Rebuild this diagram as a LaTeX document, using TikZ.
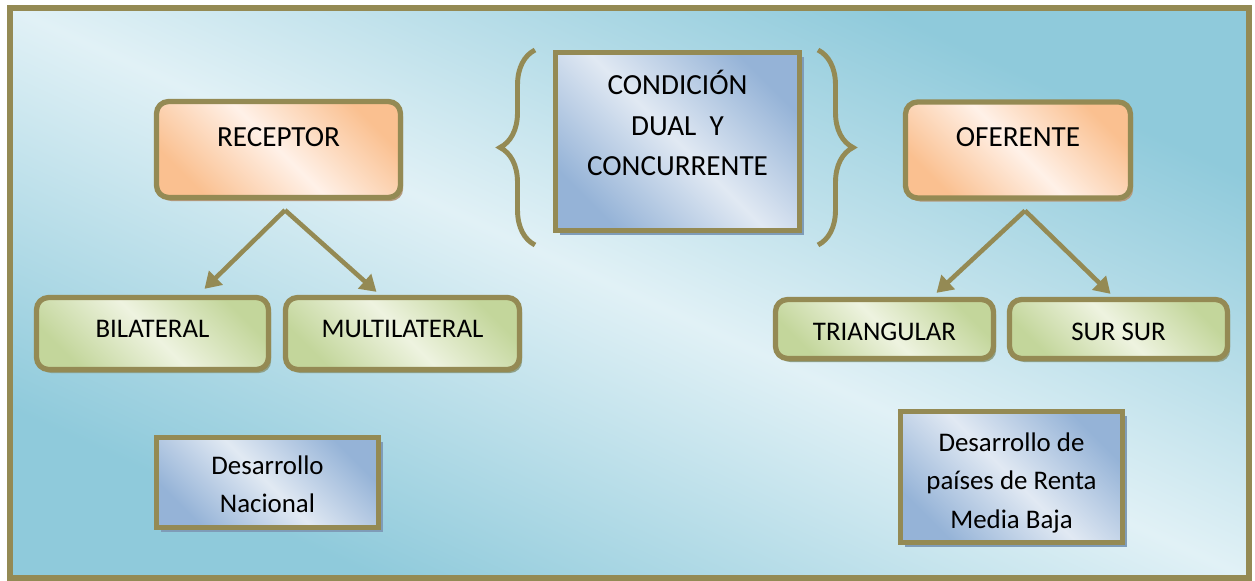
\documentclass[tikz,border=0pt]{standalone}
\usepackage{fontspec}
\setmainfont{Carlito}
\usetikzlibrary{arrows.meta, decorations.pathreplacing, shadows, calc}

\definecolor{olive}{HTML}{948A54}
\definecolor{bgdark}{HTML}{8FCADB}
\definecolor{bglight}{HTML}{E1F1F6}
\definecolor{orangedark}{HTML}{FAC090}
\definecolor{orangelight}{HTML}{FFF1E8}
\definecolor{orangeshadow}{HTML}{B59A7E}
\definecolor{greendark}{HTML}{C3D69B}
\definecolor{greenlight}{HTML}{EEF3E0}
\definecolor{greenshadow}{HTML}{8FA088}
\definecolor{bluedark}{HTML}{95B3D7}
\definecolor{bluelight}{HTML}{E1E9F3}
\definecolor{blueshadow}{HTML}{7F9CB8}

\tikzset{
  bigtext/.style={font=\fontsize{16.6}{23.3}\selectfont},
  smalltext/.style={font=\fontsize{15.3}{21.5}\selectfont},
  olivebox/.style={draw=olive, line width=3pt, inner sep=2pt, align=center, text depth=0pt},
  orangebox/.style={olivebox, bigtext, rounded corners=0.24cm,
    left color=orangedark, right color=orangedark, middle color=orangelight, shading angle=135,
    drop shadow={shadow xshift=1.5pt, shadow yshift=-2pt, fill=orangeshadow, opacity=1}},
  greenbox/.style={olivebox, smalltext, rounded corners=0.24cm,
    left color=greendark, right color=greendark, middle color=greenlight, shading angle=135,
    drop shadow={shadow xshift=1.5pt, shadow yshift=-2pt, fill=greenshadow, opacity=1}},
  bluebox/.style={olivebox,
    left color=bluedark, right color=bluedark, middle color=bluelight, shading angle=135,
    drop shadow={shadow xshift=2.5pt, shadow yshift=-2.5pt, fill=blueshadow, opacity=1}},
  arrow/.style={draw=olive, line width=2.6pt, -{Triangle[length=0.32cm, width=0.38cm]}},
  bracket/.style={draw=olive, line width=2.8pt, decorate, decoration={brace, amplitude=0.7cm}}
}

\begin{document}
\begin{tikzpicture}[x=0.02cm, y=-0.02cm]
    \useasboundingbox (0,0) rectangle (1255,581);

    % background
    \begin{scope}[transform canvas={xscale=2.17368}]
      \shade[left color=bgdark, right color=bgdark, middle color=bglight, shading angle=135] (4.6,8) rectangle (574.6,578);
    \end{scope}
    \draw[olive, line width=3.4pt] (10,8) rectangle (1249,578);

    % Receptor
    \node[orangebox, minimum width=4.88cm, minimum height=1.92cm, text height=0pt, text depth=0.14cm] (receptor) at (278.5,149.5) {RECEPTOR};
    \node[greenbox, minimum width=4.64cm, minimum height=1.44cm, text height=0.16cm] (bilateral) at (152.5,333.5) {BILATERAL};
    \node[greenbox, minimum width=4.68cm, minimum height=1.44cm, text height=0.16cm] (multilateral) at (402.5,333.5) {MULTILATERAL};
    \node[bluebox, smalltext, minimum width=4.44cm, minimum height=1.8cm, text height=1.2cm] (nacional) at (267.5,482.5) {Desarrollo\\Nacional};

    % Condicion
    \node[bluebox, bigtext, minimum width=4.88cm, minimum height=3.56cm, text height=1.38cm] (condicion) at (677.5,141.5) {CONDICIÓN\\DUAL~ Y\\CONCURRENTE};
    \draw[bracket] (535,245) -- (535,50);
    \draw[bracket] (818,50) -- (818,245);

    % Oferente
    \node[orangebox, minimum width=4.5cm, minimum height=1.92cm, text height=0pt, text depth=0.14cm] (oferente) at (1018,150) {OFERENTE};
    \node[greenbox, minimum width=4.36cm, minimum height=1.18cm, text height=0.46cm] (triangular) at (884.5,329) {TRIANGULAR};
    \node[greenbox, minimum width=4.36cm, minimum height=1.18cm, text height=0.46cm] (sursur) at (1118.5,329) {SUR SUR};
    \node[bluebox, font=\fontsize{15.3}{22}\selectfont, minimum width=4.44cm, minimum height=2.62cm, text height=2.06cm] (rentamedia) at (1011.5,477) {Desarrollo de\\países de Renta\\Media Baja};

    % arrows
    \coordinate (bilTip) at ($(bilateral.north)+(52,-6)$);
    \coordinate (mulTip) at ($(multilateral.north)+(-26,-3)$);
    \coordinate (triTip) at ($(triangular.north)+(52,-4)$);
    \coordinate (surTip) at ($(sursur.north)+(-8,-3)$);
    \draw[arrow] ([xshift=0.13cm, yshift=-0.2cm]receptor.south) -- (bilTip);
    \draw[arrow] ([xshift=0.13cm, yshift=-0.2cm]receptor.south) -- (mulTip);
    \draw[arrow] ([xshift=0.14cm, yshift=-0.2cm]oferente.south) -- (triTip);
    \draw[arrow] ([xshift=0.14cm, yshift=-0.2cm]oferente.south) -- (surTip);
\end{tikzpicture}
\end{document}
